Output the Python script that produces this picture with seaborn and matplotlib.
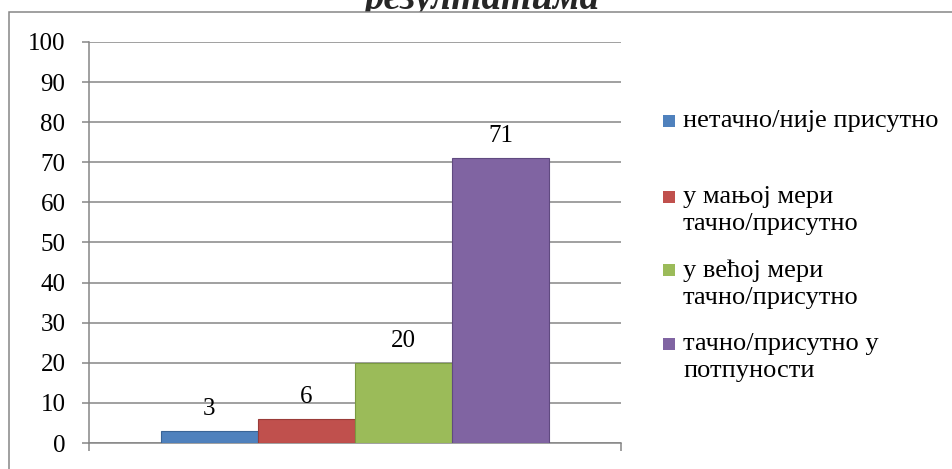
import matplotlib
matplotlib.use('Agg')
import matplotlib.pyplot as plt
import matplotlib.patches as mpatches
import seaborn as sns
import numpy as np

# Данные
categories = ['нетачно/није присутно', 'у мањој мери тачно/присутно',
              'у већој мери тачно/присутно', 'тачно/присутно у потпуности']
legend_labels = ['нетачно/није присутно', 'у мањој мери\nтачно/присутно',
                 'у већој мери\nтачно/присутно', 'тачно/присутно у\nпотпуности']
values = [3, 6, 20, 71]
colors = ['#4F81BD', '#C0504D', '#9BBB59', '#8064A2']
edge_colors = ['#3A6496', '#9A3B38', '#7A9A40', '#604A80']
yticks = list(range(0, 101, 10))

W, H = 953, 469
sns.set_theme(style='white')
plt.rcParams['font.family'] = ['Liberation Serif', 'DejaVu Serif']

fig = plt.figure(figsize=(W / 100, H / 100), dpi=100)
ax = fig.add_axes([89 / W, 1 - 443 / H, (621 - 89) / W, (443 - 42) / H])

sns.barplot(x=categories, y=values, hue=categories, palette=colors, width=1,
            legend=False, ax=ax, saturation=1, zorder=3)
for patch, ec in zip(ax.patches, edge_colors):
    patch.set_edgecolor(ec)
    patch.set_linewidth(0.8)
for cont in ax.containers:
    ax.bar_label(cont, fontsize=18, padding=8, color='black')

# Оси и сетка
grid_col = '#868686'
ax.set_ylim(0, 100)
ax.set_xlim(-1.242, 4.242)
ax.set_yticks(yticks)
ax.set_yticklabels([str(t) for t in yticks], fontsize=18, color='black')
ax.set_xticks([-1.242, 4.242])
ax.set_xticklabels(['', ''])
ax.tick_params(axis='y', direction='out', length=5, width=1.1, color=grid_col, pad=12, left=True)
ax.tick_params(axis='x', direction='out', length=6, width=1.1, color=grid_col, bottom=True)
ax.yaxis.grid(True, color=grid_col, linewidth=1.1, zorder=0)
ax.set_axisbelow(True)
for side in ['top', 'right']:
    ax.spines[side].set_visible(False)
for side in ['left', 'bottom']:
    ax.spines[side].set_color(grid_col)
    ax.spines[side].set_linewidth(1.1)
ax.set_xlabel('')
ax.set_ylabel('')

# Рамка диаграммы
frame = mpatches.Rectangle((9 / W, -0.1), 1.2, 1.1 - 12 / H, transform=fig.transFigure,
                           facecolor='white', edgecolor=grid_col, linewidth=1.1, zorder=-1)
fig.patches.append(frame)

# Заголовок (в оригинале обрезан сверху)
fig.text(482 / W, 1 - 9 / H, 'резултатима', ha='center', va='baseline',
         fontsize=28, fontweight='bold', fontstyle='italic', zorder=-2)

# Легенда
leg_y = [121, 197, 270, 344]
for lab, col, y in zip(legend_labels, colors, leg_y):
    fig.patches.append(mpatches.Rectangle((663 / W, 1 - (y + 6) / H), 12 / W, 12 / H,
                                          transform=fig.transFigure, facecolor=col,
                                          edgecolor='none', zorder=4))
    fig.text(683 / W, 1 - (y - 11) / H, lab, ha='left', va='top', fontsize=19,
             linespacing=1.3, color='black')

fig.savefig('out.png', dpi=100)
